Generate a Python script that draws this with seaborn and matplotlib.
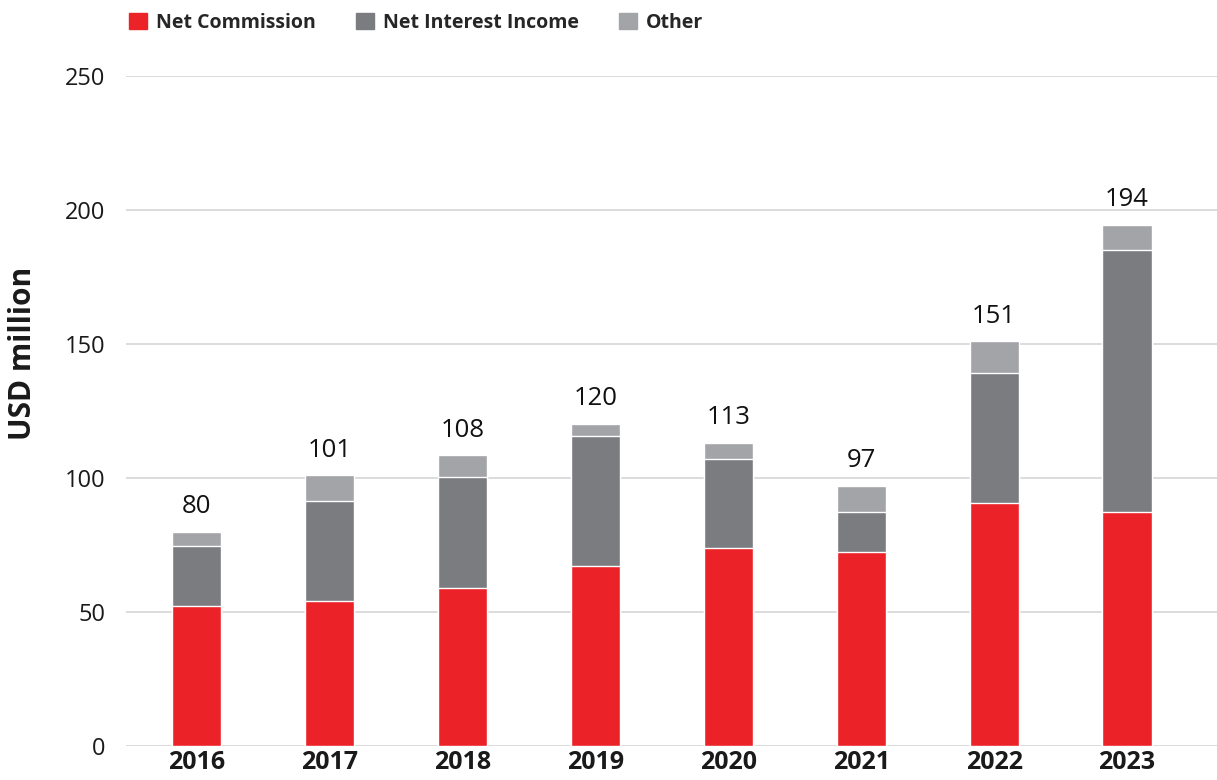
import matplotlib
matplotlib.use("Agg")
import matplotlib.pyplot as plt
import seaborn as sns
import pandas as pd
from matplotlib.patches import Patch

# datos (USD million)
years = ['2016', '2017', '2018', '2019', '2020', '2021', '2022', '2023']
net_commission = [52.4, 54.1, 58.8, 67.3, 73.7, 72.2, 90.7, 87.3]
net_interest = [22.1, 37.3, 41.7, 48.4, 33.2, 15.2, 48.5, 97.8]
other = [5.5, 9.6, 7.9, 4.6, 6.2, 9.7, 11.9, 9.3]
totals = [80, 101, 108, 120, 113, 97, 151, 194]

c_red = '#EC2229'
c_dark = '#7A7C80'
c_light = '#A3A4A8'

df = pd.DataFrame({'year': years, 'comm': net_commission,
                   'nii': net_interest, 'other': other})
df['lvl2'] = df['comm'] + df['nii']
df['lvl3'] = df['lvl2'] + df['other']

sns.set_style("white")
plt.rcParams['font.family'] = ['Open Sans', 'DejaVu Sans']

fig = plt.figure(figsize=(12.17, 7.8), dpi=100)
ax = fig.add_axes([0.1035, 0.0436, 0.8965, 0.859])

# barras apiladas: dibujamos de la mas alta a la mas baja
sns.barplot(data=df, x='year', y='lvl3', color=c_light, width=0.37,
            saturation=1, ax=ax, zorder=3)
sns.barplot(data=df, x='year', y='lvl2', color=c_dark, width=0.37,
            saturation=1, ax=ax, zorder=3)
sns.barplot(data=df, x='year', y='comm', color=c_red, width=0.37,
            saturation=1, ax=ax, zorder=3)

ax.bar_label(ax.containers[0], labels=[str(t) for t in totals],
             padding=9, fontsize=18.5, color='#111111')

ax.set_ylim(0, 250)
ax.set_xlim(-0.534, 7.677)
ax.set_yticks([0, 50, 100, 150, 200, 250])
ax.yaxis.grid(True, color='#D9D9D9', linewidth=1.3, zorder=0)
ax.set_axisbelow(True)
for s in ax.spines.values():
    s.set_visible(False)
ax.tick_params(axis='y', length=0, pad=15, labelsize=17, labelcolor='#1a1a1a')
ax.tick_params(axis='x', length=0, pad=3, labelsize=18)
for lbl in ax.get_xticklabels():
    lbl.set_fontweight('bold')
    lbl.set_color('#1a1a1a')
ax.set_xlabel('')
ax.set_ylabel('USD million', fontsize=21.5, fontweight='bold',
              color='#1a1a1a')
ax.yaxis.set_label_coords(-0.081, 0.586)

handles = [Patch(color=c_red, label='Net Commission'),
           Patch(color=c_dark, label='Net Interest Income'),
           Patch(color=c_light, label='Other')]
fig.legend(handles=handles, loc='upper left', bbox_to_anchor=(0.092, 1.006),
           ncol=3, frameon=False, handlelength=0.9, handleheight=0.9,
           handletextpad=0.45, columnspacing=2.1,
           prop={'weight': 'bold', 'size': 14})

fig.savefig('out.png', dpi=100)
